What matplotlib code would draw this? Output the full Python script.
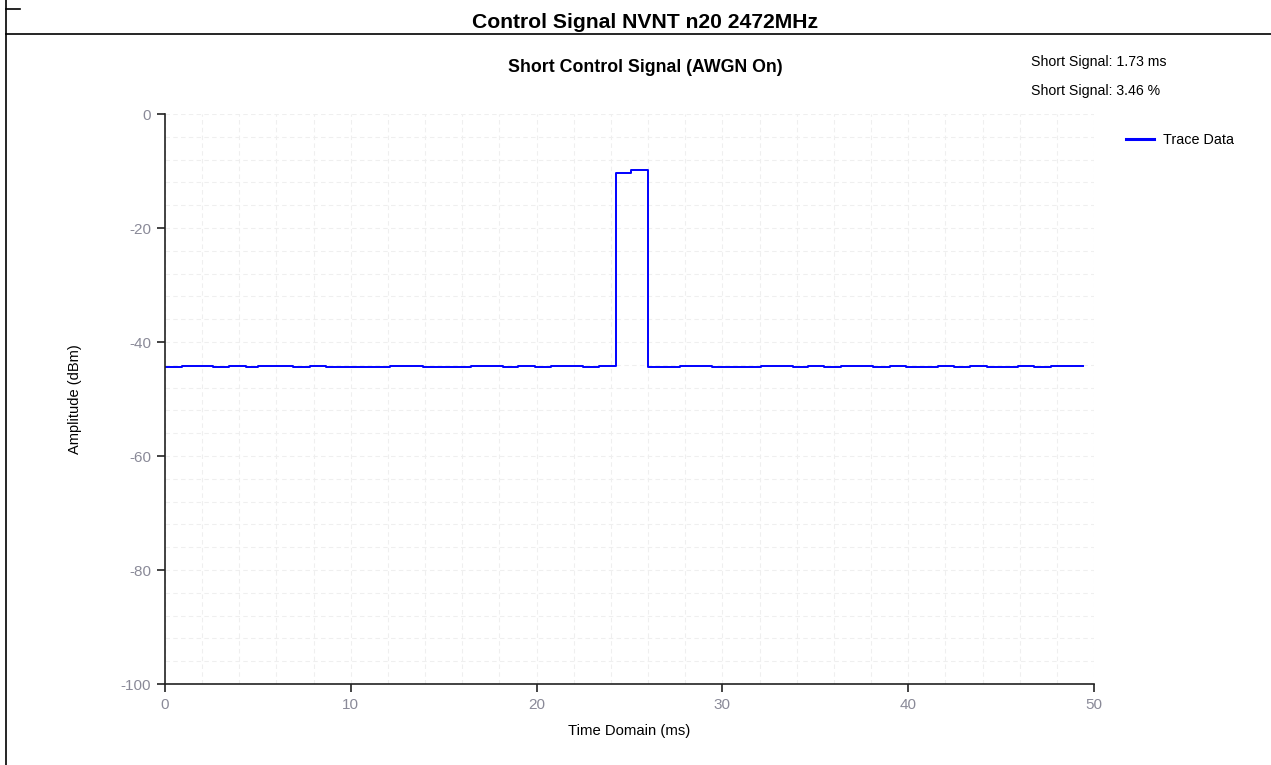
import matplotlib
matplotlib.use('Agg')
import matplotlib.pyplot as plt
from matplotlib.lines import Line2D

plt.rcParams['font.family'] = ['Liberation Sans', 'DejaVu Sans']
plt.rcParams['axes.unicode_minus'] = False

# step trace: time of each level change (ms) and the level held from it (dBm)
times = [0, 0.9, 2.6, 3.46, 4.34, 5.0, 6.9, 7.8, 8.67, 12.1, 13.87, 16.45, 18.17,
         19.02, 19.91, 20.77, 22.5, 23.37, 24.25, 25.1, 26.0, 27.72, 29.42, 32.06,
         33.78, 34.62, 35.47, 36.36, 38.09, 39.02, 39.88, 41.62, 42.47, 43.33,
         44.22, 45.93, 46.79, 47.67, 49.42]
levels = [-44.4, -44.15, -44.4, -44.15, -44.4, -44.15, -44.4, -44.15, -44.4, -44.15,
          -44.4, -44.15, -44.4, -44.15, -44.4, -44.15, -44.4, -44.15, -10.3, -9.8,
          -44.4, -44.15, -44.4, -44.15, -44.4, -44.15, -44.4, -44.15, -44.4, -44.15,
          -44.4, -44.15, -44.4, -44.15, -44.4, -44.15, -44.4, -44.15, -44.15]
short_ms = 1.73
short_pct = 3.46

fig = plt.figure(figsize=(12.71, 7.65), dpi=100)
ax = fig.add_axes([165/1271, 1-684/765, (1094-165)/1271, (684-114)/765])

ax.plot(times, levels, drawstyle='steps-post', color='#0000ff', lw=1.4, label='Trace Data')

ax.set_xlim(0, 50)
ax.set_ylim(-100, 0)
ax.set_xticks(range(0, 51, 10))
ax.set_yticks(range(-100, 1, 20))
ax.set_xticks(range(0, 51, 2), minor=True)
ax.set_yticks(range(-100, 1, 4), minor=True)
ax.grid(which='both', color='#efefef', ls=(0, (4, 3)), lw=0.8)
ax.tick_params(which='major', direction='out', length=6, width=1.2, pad=4,
               labelsize=11, labelcolor='#8a8a98', color='#222222')
ax.tick_params(which='minor', length=0)
for s in ['top', 'right']:
    ax.spines[s].set_visible(False)
for s in ['left', 'bottom']:
    ax.spines[s].set_linewidth(1.2)
    ax.spines[s].set_color('#222222')

ax.set_xlabel('Time Domain (ms)', fontsize=10.7, labelpad=9)
ax.set_ylabel('Amplitude (dBm)', fontsize=10.5, labelpad=28)

fig.text(645/1271, 1-22/765, 'Control Signal NVNT n20 2472MHz', ha='center', va='center',
         fontsize=15.2, fontweight='bold')
fig.text(645/1271, 1-68/765, 'Short Control Signal (AWGN On)', ha='center', va='center',
         fontsize=12.8, fontweight='bold')
fig.text(1031/1271, 1-62/765, 'Short Signal: %.2f ms' % short_ms, ha='left', va='center', fontsize=10.2)
fig.text(1031/1271, 1-91/765, 'Short Signal: %.2f %%' % short_pct, ha='left', va='center', fontsize=10.2)

leg = ax.legend(loc='upper left', bbox_to_anchor=(1.02, 0.99), frameon=False, fontsize=10.4,
                handlelength=2.0, handletextpad=0.6)
for h in leg.get_lines():
    h.set_linewidth(2.2)

# frame lines around the header
fig.add_artist(Line2D([6/1271, 6/1271], [0, 1], color='black', lw=1.2, transform=fig.transFigure))
fig.add_artist(Line2D([6/1271, 1], [1-34/765, 1-34/765], color='black', lw=1.2, transform=fig.transFigure))
fig.add_artist(Line2D([6/1271, 20/1271], [1-9/765, 1-9/765], color='black', lw=1.2, transform=fig.transFigure))

fig.savefig('out.png', dpi=100)
